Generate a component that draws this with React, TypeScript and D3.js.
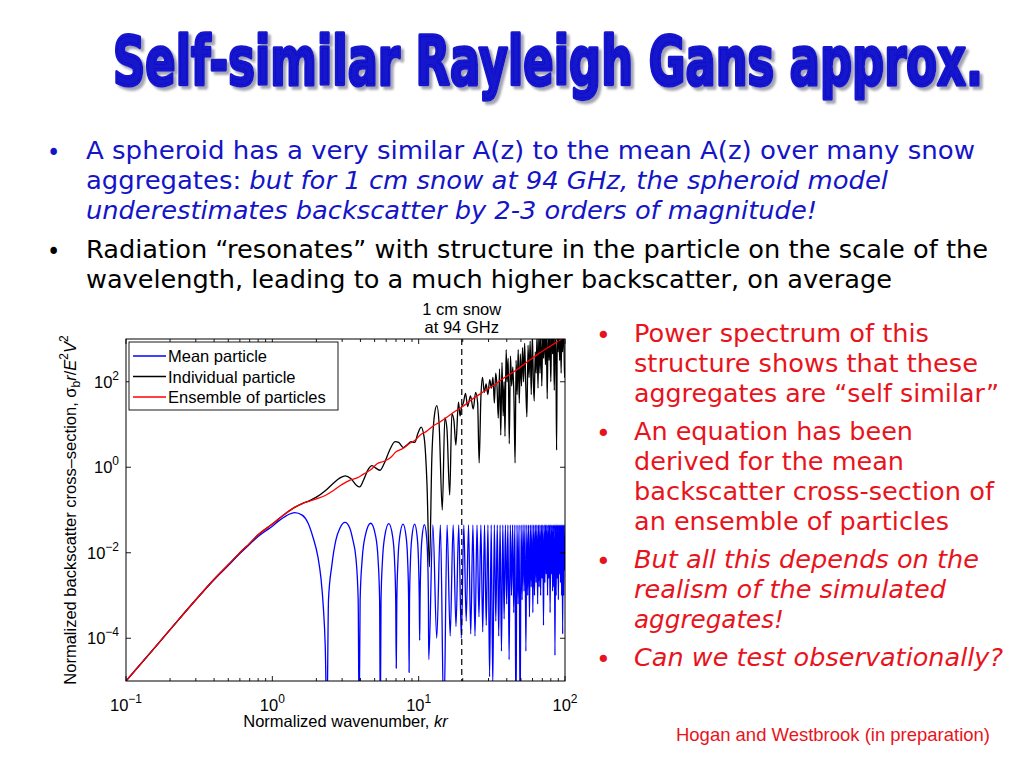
import React from 'react';
import * as d3 from 'd3';

// axis ticks
const xTickValues = [0.1, 1, 10, 100];
const xTickExponents = ['−1', '0', '1', '2'];
const yTickValues = [1e-4, 1e-2, 1, 1e2];
const yTickExponents = ['−4', '−2', '0', '2'];

const legendLabels = ['Mean particle', 'Individual particle', 'Ensemble of particles'];
const legendColors = ['#0000ff', '#000000', '#ff0000'];

const snowKr = 19.7; // 1 cm snow at 94 GHz

const meanRise: [number, number][] = [
  [0.1, -5.0], [0.15, -4.3], [0.2, -3.8], [0.3, -3.1], [0.4, -2.63], [0.5, -2.3],
  [0.6, -2.02], [0.7, -1.8], [0.8, -1.62], [0.9, -1.49], [1.0, -1.38], [1.1, -1.26],
  [1.2, -1.17], [1.3, -1.1], [1.42, -1.06], [1.6, -1.12], [1.75, -1.3], [1.9, -1.65],
  [2.05, -2.1], [2.15, -2.6], [2.23, -3.26], [2.3, -4.2], [2.36, -6],
  [2.42, -3.1], [2.55, -2.3], [2.72, -1.7], [2.9, -1.42], [3.14, -1.29], [3.38, -1.42], [3.55, -1.7], [3.73, -2.14], [3.86, -3.1], [3.92, -6],
  [3.98, -3.11], [4.11, -2.16], [4.31, -1.61], [4.7, -1.31], [5.08, -1.61], [5.28, -2.16], [5.41, -3.11], [5.47, -6],
  [5.53, -3.12], [5.66, -2.17], [5.86, -1.62], [6.25, -1.32], [6.64, -1.62], [6.84, -2.17], [6.97, -3.12], [7.03, -4.7],
  [7.09, -3.13], [7.22, -2.18], [7.42, -1.63], [7.82, -1.33], [8.21, -1.63], [8.41, -2.18], [8.54, -3.13], [8.6, -4.8],
  [8.66, -3.13], [8.79, -2.18], [8.99, -1.63], [9.38, -1.33], [9.77, -1.63], [9.97, -2.18], [10.1, -3.13], [10.16, -4.05],
  [10.22, -3.14], [10.35, -2.19], [10.55, -1.64], [10.94, -1.34], [11.33, -1.64], [11.53, -2.19], [11.66, -3.14], [11.72, -4.5],
];

// Mean particle beyond kr ~ 12: positions of the nulls and how deep each one is drawn
const meanNullKr = [
  13.29, 14.86, 16.42, 17.99, 19.56, 21.13, 22.69, 24.26, 25.83, 27.4, 28.96, 30.53, 32.1, 33.67,
  35.23, 36.8, 38.37, 39.94, 41.5, 43.07, 44.64, 46.21, 47.77, 49.34, 50.91, 52.48, 54.04, 55.61,
  57.18, 58.75, 60.31, 61.88, 63.45, 65.02, 66.58, 68.15, 69.72, 71.29, 72.85, 74.42, 75.99, 77.56,
  79.12, 80.69, 82.26, 83.83, 85.39, 86.96, 88.53, 90.1, 91.66, 93.23, 94.8, 96.37, 97.93, 99.5,
];
const meanNullDepth = [
  -4.0, -6, -3.95, -3.73, -4.0, -3.6, -3.9, -3.95, -3.5, -3.85, -3.7, -4.9, -5.1, -3.6,
  -3.95, -4.3, -3.55, -3.2, -4.5, -3.0, -3.4, -6, -3.2, -6, -3.1, -2.9, -4.3, -3.0,
  -3.5, -2.8, -3.4, -3.0, -2.7, -3.2, -2.8, -3.0, -2.6, -3.7, -2.7, -2.5, -3.0, -2.6,
  -3.4, -2.5, -2.9, -2.8, -4.4, -3.0, -2.6, -3.1, -2.5, -2.7, -3.0, -3.9, -3.0, -2.4,
];
const meanPeakLog = -1.35;
const meanEnd: [number, number] = [100, -1.6];

// Individual particle, [kr, log10 sigma]
const individual: [number, number][] = [
  [0.1, -5.0], [0.15, -4.3], [0.2, -3.8], [0.3, -3.1], [0.4, -2.62], [0.5, -2.28], [0.6, -2.0],
  [0.7, -1.78], [0.8, -1.58], [1.0, -1.33], [1.2, -1.11], [1.4, -0.95], [1.6, -0.85], [1.8, -0.78],
  [2.0, -0.7], [2.3, -0.55], [2.6, -0.38], [2.9, -0.25], [3.15, -0.2], [3.45, -0.27], [3.75, -0.42],
  [3.95, -0.46], [4.2, -0.3], [4.5, -0.06], [4.8, 0.04], [5.1, -0.02], [5.45, -0.07], [5.8, 0.08],
  [6.3, 0.38], [6.9, 0.6], [7.3, 0.58], [7.85, 0.46], [8.3, 0.52], [8.9, 0.6], [9.4, 0.58], [9.9, 0.8],
  [10.4, 0.94], [10.9, 0.7], [11.4, -0.4], [11.85, -2.33], [12.3, 0.2], [12.8, 1.2], [13.3, 1.44],
  [13.8, 1.0], [14.5, -1.0], [15.1, 1.16], [15.6, 0.9], [16.3, -0.65], [16.85, 1.25], [17.4, 1.1],
  [17.95, 0.52], [18.7, 1.52], [19.2, 1.2], [19.6, 1.4], [20.2, 1.5], [20.9, 1.73], [21.6, 1.42],
  [22.6, 1.67], [23.6, 1.36], [24.5, 1.75], [25.3, 1.5], [25.9, 0.1], [26.6, 1.6], [27.3, 2.1],
  [28.1, 1.75], [28.9, 1.95], [29.7, 1.7], [30.6, 2.05], [31.4, 1.85], [32.2, 2.1], [32.9, 1.5],
  [33.6, 2.2], [34.3, 1.9], [35.0, 1.15], [35.7, 2.3], [36.4, 0.75], [37.1, 2.45], [37.8, 1.2],
  [38.4, 2.0], [38.9, 0.72], [39.6, 2.75], [40.2, 2.0], [40.9, 2.55], [41.6, 0.55], [42.4, 2.6],
  [43.2, 1.9], [44.0, 2.35], [44.8, 1.6], [45.6, 0.1], [46.3, 2.5], [47.1, 1.7], [47.9, 2.75],
  [48.7, 1.5], [49.5, 2.65], [50.4, 1.9], [51.3, 2.8], [52.1, 2.0], [53.0, 2.9], [53.9, 1.95],
  [54.9, 1.18], [55.9, 2.85], [56.8, 2.1], [57.8, 2.95], [58.8, 1.7], [59.8, 3.1], [60.8, 2.0],
  [61.6, 1.55], [62.6, 2.7], [63.5, 2.2], [64.4, 3.1], [65.4, 1.85], [66.4, 3.2], [67.4, 2.2],
  [68.4, 3.2], [69.4, 1.9], [70.4, 3.05], [71.4, 2.55], [72.4, 3.3], [73.5, 2.4], [74.5, 3.2],
  [75.6, 1.6], [76.7, 3.3], [77.8, 2.5], [78.9, 3.1], [80.0, 2.0], [81.1, 3.3], [82.2, 2.65],
  [83.3, 3.2], [84.5, 1.8], [85.6, 3.3], [86.7, 2.6], [87.6, 0.4], [88.6, 3.2], [89.7, 2.7],
  [90.8, 3.4], [91.9, 2.5], [93.0, 3.3], [94.1, 2.2], [95.2, 3.4], [96.3, 2.7], [97.3, 3.3],
  [98.4, 2.9], [99.3, 2.1], [100, 2.23],
];

// Ensemble of particles, [kr, log10 sigma]
const ensemble: [number, number][] = [
  [0.1, -5.0], [0.15, -4.3], [0.2, -3.8], [0.3, -3.1], [0.4, -2.62], [0.5, -2.28], [0.6, -2.0],
  [0.7, -1.78], [0.8, -1.58], [1.0, -1.33], [1.2, -1.11], [1.4, -0.95], [1.6, -0.85], [1.8, -0.79],
  [2.0, -0.74], [2.3, -0.66], [2.6, -0.55], [3.0, -0.4], [3.4, -0.3], [3.8, -0.25], [4.2, -0.16],
  [4.7, -0.06], [5.2, 0.08], [5.8, 0.14], [6.4, 0.22], [7.0, 0.36], [7.8, 0.44], [8.7, 0.56],
  [9.5, 0.64], [10.3, 0.76], [11.3, 0.84], [12.5, 0.96], [14, 1.06], [16, 1.2], [18, 1.32],
  [20, 1.42], [23, 1.58], [27, 1.74], [32, 1.9], [38, 2.08], [45, 2.24], [55, 2.46], [65, 2.64],
  [80, 2.84], [100, 3.05],
];

const topLines = [
  { y: 159, w: 889, parts: [{ t: 'A spheroid has a very similar A(z) to the mean A(z) over many snow', i: false }] },
  { y: 189, w: 802, parts: [{ t: 'aggregates: ', i: false }, { t: 'but for 1 cm snow at 94 GHz, the spheroid model', i: true }] },
  { y: 219, w: 731, parts: [{ t: 'underestimates backscatter by 2-3 orders of magnitude!', i: true }] },
];
const secondLines = [
  { y: 258, w: 902, t: 'Radiation “resonates” with structure in the particle on the scale of the' },
  { y: 288, w: 806, t: 'wavelength, leading to a much higher backscatter, on average' },
];
const sideLines = [
  { y: 342, w: 295, t: 'Power spectrum of this', i: false, dot: true },
  { y: 372, w: 344, t: 'structure shows that these', i: false, dot: false },
  { y: 402, w: 365, t: 'aggregates are “self similar”', i: false, dot: false },
  { y: 440, w: 279, t: 'An equation has been', i: false, dot: true },
  { y: 470, w: 270, t: 'derived for the mean', i: false, dot: false },
  { y: 500, w: 360, t: 'backscatter cross-section of', i: false, dot: false },
  { y: 530, w: 315, t: 'an ensemble of particles', i: false, dot: false },
  { y: 568, w: 345, t: 'But all this depends on the', i: true, dot: true },
  { y: 598, w: 312, t: 'realism of the simulated', i: true, dot: false },
  { y: 628, w: 150, t: 'aggregates!', i: true, dot: false },
  { y: 666, w: 369, t: 'Can we test observationally?', i: true, dot: true },
];

const L = 126, R = 565, T = 339, B = 681;
const axisFont = '"Liberation Sans", Arial, Helvetica, sans-serif';
const slideFont = '"DejaVu Sans", Verdana, sans-serif';

export default function App() {
  const x = d3.scaleLog().domain([0.1, 100]).range([L, R]);
  const y = d3.scaleLog().domain([1e-5, 1e3]).range([B, T]);

  const line = d3.line<[number, number]>()
    .x(d => x(d[0]))
    .y(d => y(Math.pow(10, d[1])))
    .curve(d3.curveMonotoneX);

  // mean particle: early readings, then one lobe per null
  const mean: [number, number][] = meanRise.slice();
  let prev = meanRise[meanRise.length - 1][0];
  meanNullKr.forEach((kr, i) => {
    mean.push([(prev + kr) / 2, meanPeakLog]);
    mean.push([kr, meanNullDepth[i]]);
    prev = kr;
  });
  mean.push(meanEnd);

  const minorTicks: number[] = [];
  [0.1, 1, 10].forEach(dec => {
    for (let m = 2; m <= 9; m++) minorTicks.push(dec * m);
  });

  const blueText = '#1414c8';
  const redText = '#e8141c';

  return (
    <svg width={1024} height={768} style={{ position: 'absolute', left: 0, top: 0, background: '#fff' }}>
      <defs>
        <filter id="titleShadow" x="-5%" y="-20%" width="110%" height="150%">
          <feDropShadow dx={3} dy={2.2} stdDeviation={0.8} floodColor="#9a9aaa" floodOpacity={0.9} />
        </filter>
        <clipPath id="plotClip">
          <rect x={L} y={T} width={R - L} height={B - T} />
        </clipPath>
      </defs>
      <rect width={1024} height={768} fill="#fff" />

      {/* title: drawn at a smaller size and stretched upward */}
      <g transform="translate(113,85) scale(1,1.4)">
        <text x={0} y={0} textLength={870} lengthAdjust="spacingAndGlyphs"
          fontFamily='"DejaVu Sans Condensed", "DejaVu Sans", sans-serif' fontWeight="bold" fontSize={48}
          fill="#1212cc" stroke="#1212cc" strokeWidth={2.4} strokeLinejoin="round" filter="url(#titleShadow)">
          Self-similar Rayleigh Gans approx.
        </text>
      </g>

      {/* top bullets */}
      <g fontFamily='"DejaVu Sans Condensed", "DejaVu Sans", sans-serif' fontSize={25}>
        <text x={47} y={161} fill={blueText}>•</text>
        {topLines.map((l, i) => (
          <text key={i} x={86} y={l.y} fill={blueText} textLength={l.w} lengthAdjust="spacingAndGlyphs">
            {l.parts.map((p, j) => <tspan key={j} fontStyle={p.i ? 'italic' : 'normal'}>{p.t}</tspan>)}
          </text>
        ))}
        <text x={47} y={260} fill="#000">•</text>
        {secondLines.map((l, i) => (
          <text key={i} x={86} y={l.y} fill="#000" textLength={l.w} lengthAdjust="spacingAndGlyphs">{l.t}</text>
        ))}
      </g>

      {/* side bullets */}
      <g fontFamily={slideFont} fontSize={25} fill={redText}>
        {sideLines.map((l, i) => (
          <g key={i}>
            {l.dot && <text x={596} y={l.y + 2}>•</text>}
            <text x={634} y={l.y} fontStyle={l.i ? 'italic' : 'normal'} textLength={l.w} lengthAdjust="spacingAndGlyphs">{l.t}</text>
          </g>
        ))}
      </g>

      <text x={676} y={741} fontFamily={axisFont} fontSize={19} fill={redText} textLength={314} lengthAdjust="spacingAndGlyphs">Hogan and Westbrook (in preparation)</text>

      {/* plot */}
      <rect x={L} y={T} width={R - L} height={B - T} fill="#fff" />
      <g clipPath="url(#plotClip)" fill="none" strokeLinejoin="round">
        <path d={line(mean) || ''} stroke="#0000ff" strokeWidth={1.3} />
        <path d={line(individual) || ''} stroke="#000" strokeWidth={1.3} />
        <path d={line(ensemble) || ''} stroke="#ff0000" strokeWidth={1.3} />
      </g>
      <line x1={x(snowKr)} x2={x(snowKr)} y1={T} y2={B} stroke="#000" strokeWidth={1.2} strokeDasharray="6,4" />

      {/* frame and ticks */}
      <rect x={L} y={T} width={R - L} height={B - T} fill="none" stroke="#000" strokeWidth={1} />
      <g stroke="#000" strokeWidth={0.9}>
        {xTickValues.map(v => (
          <g key={'xm' + v}>
            <line x1={x(v)} x2={x(v)} y1={B} y2={B - 5} />
            <line x1={x(v)} x2={x(v)} y1={T} y2={T + 5} />
          </g>
        ))}
        {minorTicks.map(v => (
          <g key={'xn' + v}>
            <line x1={x(v)} x2={x(v)} y1={B} y2={B - 3} />
            <line x1={x(v)} x2={x(v)} y1={T} y2={T + 3} />
          </g>
        ))}
        {yTickValues.map(v => (
          <g key={'y' + v}>
            <line x1={L} x2={L + 5} y1={y(v)} y2={y(v)} />
            <line x1={R} x2={R - 5} y1={y(v)} y2={y(v)} />
          </g>
        ))}
      </g>
      <g fontFamily={axisFont} fontSize={16.5} fill="#000">
        {xTickValues.map((v, i) => (
          <text key={'xl' + v} x={x(v)} y={711} textAnchor="middle">
            10<tspan dy={-8} fontSize={12}>{xTickExponents[i]}</tspan>
          </text>
        ))}
        {yTickValues.map((v, i) => (
          <text key={'yl' + v} x={119} y={y(v) + 6} textAnchor="end">
            10<tspan dy={-8} fontSize={12}>{yTickExponents[i]}</tspan>
          </text>
        ))}
        <text x={(L + R) / 2} y={727} textAnchor="middle">
          Normalized wavenumber, <tspan fontStyle="italic">kr</tspan>
        </text>
        <text transform={`translate(76,${(T + B) / 2}) rotate(-90)`} textAnchor="middle">
          Normalized backscatter cross–section, σ<tspan dy={4} fontSize={12}>b</tspan>
          <tspan dy={-4} fontStyle="italic">r</tspan>/<tspan fontStyle="italic">E</tspan>
          <tspan dy={-8} fontSize={12}>2</tspan><tspan dy={8} fontStyle="italic">V</tspan>
          <tspan dy={-8} fontSize={12}>2</tspan>
        </text>
        <text x={x(snowKr)} y={315} textAnchor="middle">1 cm snow</text>
        <text x={x(snowKr)} y={333} textAnchor="middle">at 94 GHz</text>
      </g>

      {/* legend */}
      <g>
        <rect x={129} y={342} width={209} height={68} fill="#fff" stroke="#000" strokeWidth={0.9} />
        {legendLabels.map((lab, i) => (
          <g key={lab}>
            <line x1={133} x2={166} y1={356 + i * 20.5} y2={356 + i * 20.5} stroke={legendColors[i]} strokeWidth={1.3} />
            <text x={168} y={362 + i * 20.5} fontFamily={axisFont} fontSize={16.5}>{lab}</text>
          </g>
        ))}
      </g>
    </svg>
  );
}
